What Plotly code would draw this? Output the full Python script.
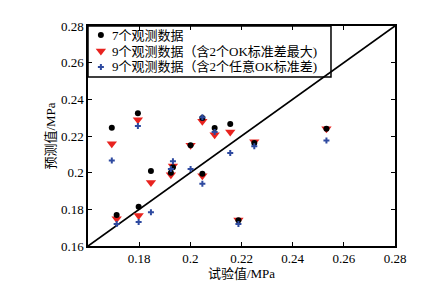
import plotly.graph_objects as go

x_exp = [0.1693, 0.1712, 0.1795, 0.1798, 0.1846, 0.1924, 0.1932, 0.2001,
         0.2047, 0.2047, 0.2095, 0.2156, 0.2188, 0.2250, 0.2532]
y_7 = [0.2245, 0.1769, 0.2324, 0.1814, 0.2009, 0.1999, 0.2029, 0.2150,
       0.2298, 0.1994, 0.2244, 0.2265, 0.1740, 0.2162, 0.2240]
y_9max = [0.2158, 0.1749, 0.2289, 0.1767, 0.1947, 0.1989, 0.2036, 0.2150,
          0.2280, 0.1983, 0.2207, 0.2222, 0.1742, 0.2168, 0.2240]
y_9any = [0.2067, 0.1720, 0.2255, 0.1731, 0.1784, 0.2020, 0.2062, 0.2020,
          0.2302, 0.1940, 0.2222, 0.2107, 0.1720, 0.2144, 0.2176]
diag = [0.16, 0.28]

names = ["7个观测数据", "9个观测数据（含2个OK标准差最大)", "9个观测数据（含2个任意OK标准差)"]

font_fam = "Liberation Serif, Noto Sans CJK SC, serif"

styles = [
    dict(symbol="circle", size=6, color="black"),
    dict(symbol="triangle-down", size=9, color="#e8231f"),
    dict(symbol="cross", size=5, color="#2e4aa0"),
]
series = [y_7, y_9max, y_9any]

fig = go.Figure()
# 1:1 reference line (drawn below the legend frame)
fig.add_shape(type="line", xref="x", yref="y", x0=diag[0], y0=diag[0], x1=diag[1], y1=diag[1],
              line=dict(color="black", width=1.8), layer="below")
# legend frame (white box covering the diagonal line, below the markers)
fig.add_shape(type="rect", xref="paper", yref="paper", x0=0, x1=0.7915, y0=0.768, y1=1,
              line=dict(color="black", width=1.5), fillcolor="white", layer="between")

# draw order: red, black, blue
for i in [1, 0, 2]:
    fig.add_trace(go.Scatter(x=x_exp, y=series[i], mode="markers", name=names[i],
                             showlegend=False, marker=styles[i]))

axis_common = dict(showline=True, linecolor="black", linewidth=1.5, mirror="ticks",
                   ticks="inside", ticklen=4, tickwidth=1, tickcolor="black",
                   showgrid=False, zeroline=False,
                   tickfont=dict(family=font_fam, size=13, color="black"))

fig.update_xaxes(range=[0.16, 0.28], tickvals=[0.18, 0.2, 0.22, 0.24, 0.26, 0.28],
                 ticktext=["0.18", "0.2", "0.22", "0.24", "0.26", "0.28"],
                 title=dict(text="试验值/MPa", font=dict(family=font_fam, size=13, color="black"),
                            standoff=4), **axis_common)
fig.update_yaxes(range=[0.16, 0.28], tickvals=[0.16, 0.18, 0.2, 0.22, 0.24, 0.26, 0.28],
                 ticktext=["0.16", "0.18", "0.2", "0.22", "0.24", "0.26", "0.28"],
                 title=dict(text="预测值/MPa", font=dict(family=font_fam, size=13, color="black"),
                            standoff=2), **axis_common)

# legend content: symbols on an overlay unit axis, labels as annotations
leg_y = [0.959, 0.886, 0.814]
leg_sym_x = 0.042
leg_txt_x = 0.073
for i in range(3):
    fig.add_trace(go.Scatter(x=[leg_sym_x], y=[leg_y[i]], mode="markers", marker=styles[i],
                             xaxis="x2", yaxis="y2", showlegend=False, hoverinfo="skip",
                             cliponaxis=False))
    fig.add_annotation(x=leg_txt_x, y=leg_y[i], xref="paper", yref="paper", text=names[i],
                       showarrow=False, xanchor="left", yanchor="middle",
                       font=dict(family=font_fam, size=13, color="black"))

fig.update_layout(
    xaxis2=dict(overlaying="x", range=[0, 1], visible=False, fixedrange=True),
    yaxis2=dict(overlaying="y", range=[0, 1], visible=False, fixedrange=True),
    width=445, height=288,
    margin=dict(l=80, r=58, t=18, b=50),
    paper_bgcolor="white", plot_bgcolor="white",
    font=dict(family=font_fam, size=13, color="black"),
    showlegend=False,
)

fig.write_html("out.html")
